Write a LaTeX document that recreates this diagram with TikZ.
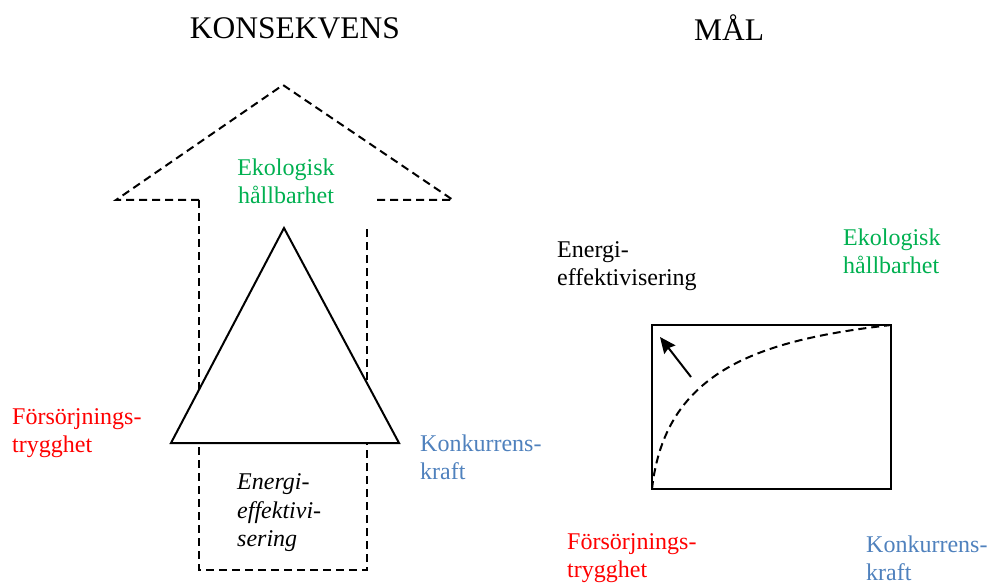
\documentclass[tikz,border=0pt]{standalone}
\usepackage{fontspec}
\setmainfont{Liberation Serif}
\usetikzlibrary{arrows.meta}
\definecolor{ekogreen}{RGB}{0,176,80}
\definecolor{konkblue}{RGB}{79,129,189}
\definecolor{forsred}{RGB}{255,0,0}
\begin{document}
\begin{tikzpicture}[x=1pt,y=-1pt,
  lbl/.style={inner sep=0pt,align=left,anchor=west,font=\fontsize{24}{28}\selectfont},
  ttl/.style={inner sep=0pt,font=\fontsize{31.5}{36}\selectfont},
  dashline/.style={draw=black,line width=2pt,dash pattern=on 8pt off 5pt},
  solidline/.style={draw=black,line width=2pt}]
\useasboundingbox (0,0) rectangle (987,585);
% ---- left: arrow outline
\coordinate (apex) at (283,85);
\coordinate (wl) at (116,200);
\coordinate (wr) at (453,200);
\coordinate (sl) at (199,200);
\coordinate (sr) at (375,200);
\coordinate (srt) at (367,228);
\coordinate (bl) at (199,570);
\coordinate (br) at (367,570);
\draw[dashline] (sl) -- (wl) -- (apex) -- (wr) -- (sr);
\draw[dashline] (sl) -- (bl) -- (br) -- (srt);
% triangle
\coordinate (ta) at (284,228);
\coordinate (tl) at (171,443);
\coordinate (tr) at (399,443);
\filldraw[solidline,fill=white,line join=miter] (ta) -- (tl) -- (tr) -- cycle;
% texts left
\node[ttl] (kons) at (295,28) {KONSEKVENS};
\node[lbl,anchor=center,align=center,text=ekogreen] (ekoL) at (286,181) {Ekologisk\\hållbarhet};
\node[lbl,text=forsred] (forsL) at (12,433) {Försörjnings-\\trygghet};
\node[lbl,text=konkblue] (konkL) at (420,457) {Konkurrens-\\kraft};
\node[lbl,font=\fontsize{24}{28.5}\selectfont\itshape] (enL) at (237,513) {Energi-\\effektivi-\\sering};
% ---- right
\node[ttl] (mal) at (729,28) {MÅL};
\node[lbl] (enR) at (557,266) {Energi-\\effektivisering};
\node[lbl,text=ekogreen] (ekoR) at (843,251) {Ekologisk\\hållbarhet};
\node[lbl,text=forsred] (forsR) at (567,558) {Försörjnings-\\trygghet};
\node[lbl,text=konkblue] (konkR) at (866,558) {Konkurrens-\\kraft};
\coordinate (rbl) at (652,489);
\coordinate (rtr) at (891,325);
\draw[solidline] (rbl) rectangle (rtr);
\draw[dashline] (rbl) .. controls (665,370) and (760,340) .. (rtr);
\coordinate (atail) at (691,377);
\coordinate (ahead) at (660,337);
\draw[solidline,-{Stealth[length=16pt,width=14pt,inset=2pt]}] (atail) -- (ahead);
\end{tikzpicture}
\end{document}
